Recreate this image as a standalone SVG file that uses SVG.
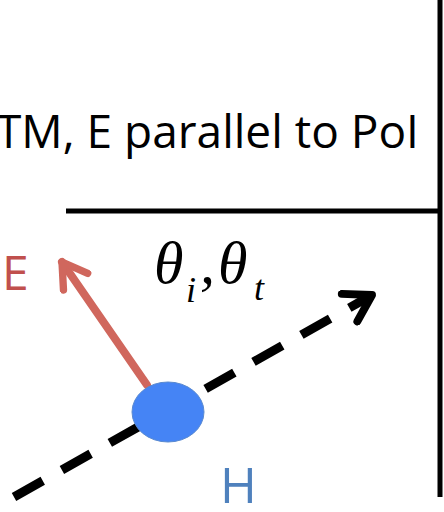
<svg xmlns="http://www.w3.org/2000/svg" width="444" height="512" viewBox="0 0 444 512">
<style>
.lbl{font-family:"Open Sans","Liberation Sans",sans-serif}
.math{font-family:"Liberation Serif",serif;font-style:italic}
</style>
<defs>
<marker id="ahk" viewBox="0 0 10 10" refX="8" refY="5" markerWidth="4.4" markerHeight="4.4" orient="auto" markerUnits="strokeWidth">
<path d="M1.5,1 L8,5 L1.5,9" fill="none" stroke="#000" stroke-width="2" stroke-linecap="round" stroke-linejoin="round"/>
</marker>
<marker id="ahr" viewBox="0 0 10 10" refX="8" refY="5" markerWidth="4.6" markerHeight="4.6" orient="auto" markerUnits="strokeWidth">
<path d="M1.5,1 L8,5 L1.5,9" fill="none" stroke="#d0675d" stroke-width="2" stroke-linecap="round" stroke-linejoin="round"/>
</marker>
</defs>
<g id="interface">
<line x1="440" y1="0" x2="440" y2="497" stroke="#000" stroke-width="5"/>
<line x1="66" y1="211" x2="442" y2="211" stroke="#000" stroke-width="5"/>
</g>
<text class="lbl" x="-4" y="148" font-size="46" fill="#000">TM, E parallel to PoI</text>
<g id="connectors">
<line x1="14" y1="497" x2="372" y2="295" stroke="#000" stroke-width="9" stroke-dasharray="33,22" marker-end="url(#ahk)"/>
<line x1="147" y1="385" x2="62" y2="262" stroke="#d0675d" stroke-width="8" stroke-linecap="round" marker-end="url(#ahr)"/>
</g>
<g id="H-node">
<ellipse cx="168" cy="412" rx="36" ry="30" fill="#4584f5" stroke="#5a8ad0" stroke-width="1"/>
</g>
<text class="lbl" x="2" y="290" font-size="48" fill="#c0504d">E</text>
<text class="lbl" x="220" y="503" font-size="50" fill="#4f81bd">H</text>
<text class="math" x="154" y="283" font-size="60" fill="#000">θ<tspan font-size="36" x="186" y="302">i</tspan><tspan x="200" y="283">,</tspan><tspan x="218" y="283">θ</tspan><tspan font-size="36" x="254" y="300">t</tspan></text>
</svg>
